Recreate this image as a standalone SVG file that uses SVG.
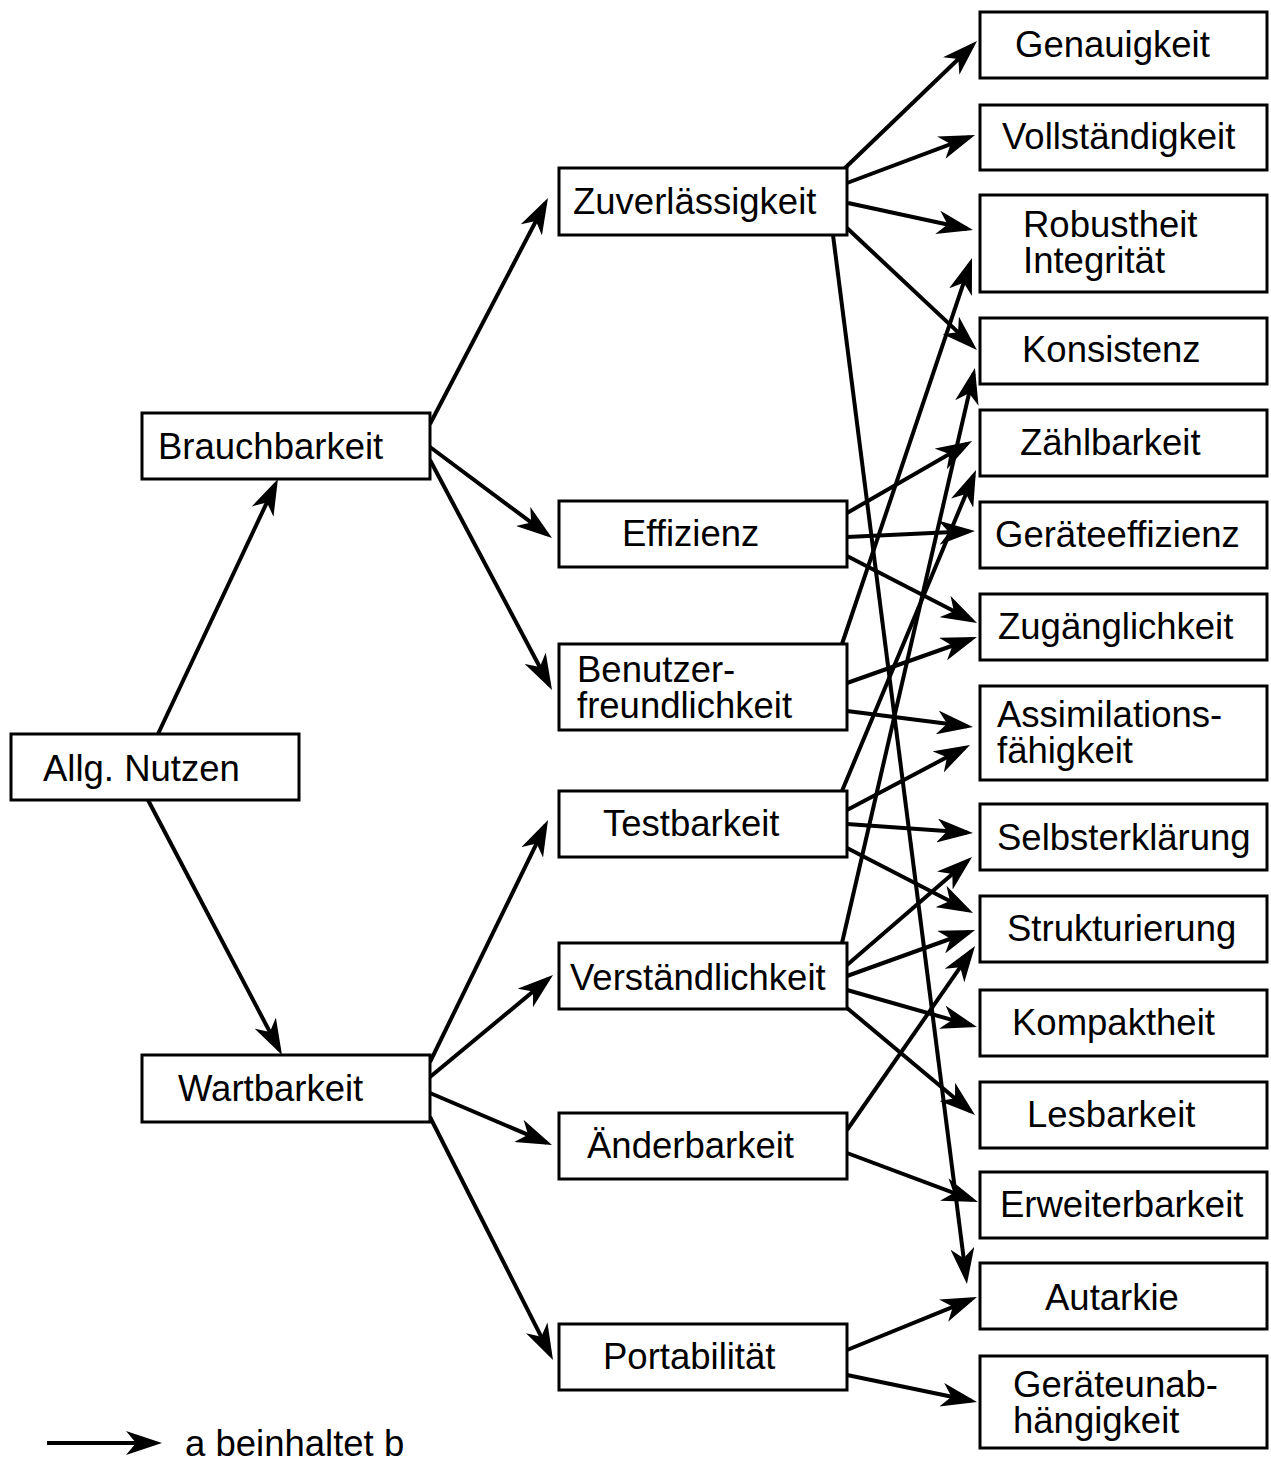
<svg xmlns="http://www.w3.org/2000/svg" width="1271" height="1463" viewBox="0 0 1271 1463">
<style>
.box{fill:#fff;stroke:#000;stroke-width:3}
.t{font-family:"Liberation Sans",Arial,sans-serif;font-size:36.5px;fill:#000}
.e{fill:none;stroke:#000;stroke-width:4;marker-end:url(#ah)}
</style>
<defs>
<marker id="ah" markerUnits="userSpaceOnUse" markerWidth="36" markerHeight="24" viewBox="0 0 36 24" refX="30" refY="12" orient="auto">
<path d="M36,12 L0,0 L10,12 L0,24 Z" fill="#000"/>
</marker>
</defs>
<rect width="1271" height="1463" fill="#fff"/>
<g id="connectors">
<line class="e" x1="158" y1="734" x2="275.4" y2="484.4"/>
<line class="e" x1="148" y1="800" x2="279.2" y2="1049.7"/>
<line class="e" x1="430" y1="424" x2="545.2" y2="203.3"/>
<line class="e" x1="430" y1="447" x2="547.2" y2="534.4"/>
<line class="e" x1="430" y1="460" x2="549.2" y2="684.7"/>
<line class="e" x1="430" y1="1062" x2="545.4" y2="825.4"/>
<line class="e" x1="430" y1="1077" x2="548.4" y2="978.8"/>
<line class="e" x1="430" y1="1093" x2="546.5" y2="1142.6"/>
<line class="e" x1="430" y1="1117" x2="550.3" y2="1354.6"/>
<line class="e" x1="845" y1="168" x2="972.7" y2="45.2"/>
<line class="e" x1="847" y1="183" x2="969.4" y2="137.1"/>
<line class="e" x1="848" y1="203" x2="967.1" y2="228.7"/>
<line class="e" x1="847" y1="228" x2="972.6" y2="345.9"/>
<line class="e" x1="833" y1="235" x2="966.2" y2="1278"/>
<line class="e" x1="847" y1="513" x2="966.8" y2="444"/>
<line class="e" x1="847" y1="537" x2="969" y2="531.3"/>
<line class="e" x1="847" y1="556" x2="971.7" y2="620.3"/>
<line class="e" x1="842" y1="644" x2="970.1" y2="263.7"/>
<line class="e" x1="847" y1="683" x2="971.3" y2="639"/>
<line class="e" x1="847" y1="711" x2="967" y2="726.2"/>
<line class="e" x1="842" y1="791" x2="973.7" y2="475.5"/>
<line class="e" x1="847" y1="810" x2="964.7" y2="747.8"/>
<line class="e" x1="847" y1="824" x2="967" y2="832.6"/>
<line class="e" x1="847" y1="848" x2="967.7" y2="910.2"/>
<line class="e" x1="842" y1="943" x2="973.6" y2="373.8"/>
<line class="e" x1="847" y1="965" x2="967.5" y2="860.9"/>
<line class="e" x1="847" y1="976" x2="969.4" y2="932"/>
<line class="e" x1="847" y1="990" x2="971.2" y2="1025.4"/>
<line class="e" x1="847" y1="1008" x2="970.4" y2="1111.2"/>
<line class="e" x1="847" y1="1130" x2="971.6" y2="950.9"/>
<line class="e" x1="847" y1="1153" x2="972.4" y2="1199.9"/>
<line class="e" x1="847" y1="1350" x2="971.4" y2="1299.3"/>
<line class="e" x1="847" y1="1375" x2="971.1" y2="1400.8"/>
</g>
<g id="n-allg"><rect class="box" x="11" y="734" width="288" height="66"/><text class="t" x="43" y="781">Allg. Nutzen</text></g>
<g id="n-brauch"><rect class="box" x="142" y="413" width="288" height="66"/><text class="t" x="158" y="459">Brauchbarkeit</text></g>
<g id="n-wart"><rect class="box" x="142" y="1055" width="288" height="67"/><text class="t" x="178" y="1101">Wartbarkeit</text></g>
<g id="n-zuv"><rect class="box" x="559" y="168" width="288" height="67"/><text class="t" x="573" y="214">Zuverlässigkeit</text></g>
<g id="n-eff"><rect class="box" x="559" y="501" width="288" height="66"/><text class="t" x="622" y="546">Effizienz</text></g>
<g id="n-benutzer"><rect class="box" x="559" y="644" width="288" height="86"/><text class="t" x="577" y="682">Benutzer-</text><text class="t" x="577" y="718">freundlichkeit</text></g>
<g id="n-test"><rect class="box" x="559" y="791" width="288" height="66"/><text class="t" x="603" y="836">Testbarkeit</text></g>
<g id="n-verst"><rect class="box" x="559" y="943" width="288" height="66"/><text class="t" x="570" y="990">Verständlichkeit</text></g>
<g id="n-aender"><rect class="box" x="559" y="1113" width="288" height="66"/><text class="t" x="587" y="1158">Änderbarkeit</text></g>
<g id="n-port"><rect class="box" x="559" y="1324" width="288" height="66"/><text class="t" x="603" y="1369">Portabilität</text></g>
<g id="n-genau"><rect class="box" x="980" y="12" width="287" height="66"/><text class="t" x="1015" y="57">Genauigkeit</text></g>
<g id="n-voll"><rect class="box" x="980" y="105" width="287" height="65"/><text class="t" x="1002" y="149">Vollständigkeit</text></g>
<g id="n-robust"><rect class="box" x="980" y="195" width="287" height="97"/><text class="t" x="1023" y="237">Robustheit</text><text class="t" x="1023" y="273">Integrität</text></g>
<g id="n-kons"><rect class="box" x="980" y="318" width="287" height="66"/><text class="t" x="1022" y="362">Konsistenz</text></g>
<g id="n-zaehl"><rect class="box" x="980" y="410" width="287" height="66"/><text class="t" x="1020" y="455">Zählbarkeit</text></g>
<g id="n-geraeteeff"><rect class="box" x="980" y="502" width="287" height="66"/><text class="t" x="995" y="547">Geräteeffizienz</text></g>
<g id="n-zug"><rect class="box" x="980" y="594" width="287" height="66"/><text class="t" x="998" y="639">Zugänglichkeit</text></g>
<g id="n-assim"><rect class="box" x="980" y="686" width="287" height="94"/><text class="t" x="997" y="727">Assimilations-</text><text class="t" x="997" y="763">fähigkeit</text></g>
<g id="n-selbst"><rect class="box" x="980" y="804" width="287" height="66"/><text class="t" x="997" y="850">Selbsterklärung</text></g>
<g id="n-strukt"><rect class="box" x="980" y="896" width="287" height="66"/><text class="t" x="1007" y="941">Strukturierung</text></g>
<g id="n-kompakt"><rect class="box" x="980" y="990" width="287" height="66"/><text class="t" x="1012" y="1035">Kompaktheit</text></g>
<g id="n-lesbar"><rect class="box" x="980" y="1082" width="287" height="66"/><text class="t" x="1027" y="1127">Lesbarkeit</text></g>
<g id="n-erweiter"><rect class="box" x="980" y="1172" width="287" height="66"/><text class="t" x="1000" y="1217">Erweiterbarkeit</text></g>
<g id="n-autarkie"><rect class="box" x="980" y="1263" width="287" height="66"/><text class="t" x="1045" y="1310">Autarkie</text></g>
<g id="n-geraeteunab"><rect class="box" x="980" y="1356" width="287" height="92"/><text class="t" x="1013" y="1397">Geräteunab-</text><text class="t" x="1013" y="1433">hängigkeit</text></g>
<g id="legend">
<line class="e" x1="47" y1="1443" x2="156" y2="1443"/>
<text class="t" x="185" y="1456">a beinhaltet b</text>
</g>
</svg>
